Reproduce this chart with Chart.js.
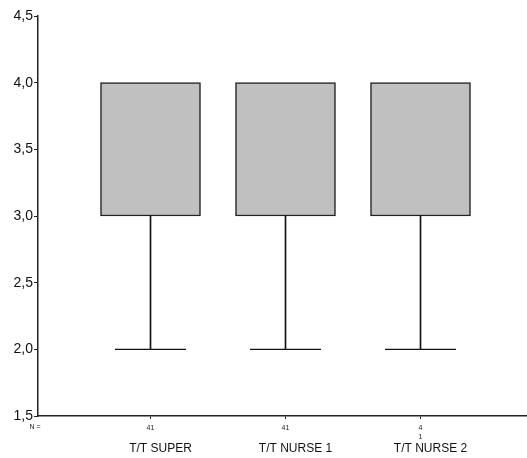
<!DOCTYPE html>
<html>
<head>
<meta charset="utf-8">
<script src="https://cdn.jsdelivr.net/npm/chart.js@4"></script>
<style>
  body { margin: 0; background: #fff; }
</style>
</head>
<body>
<canvas id="myChart" width="527" height="458"></canvas>
<script>
// box plot values, one entry per group (upper whisker = Q3, so none drawn)
const categories = ['T/T SUPER', 'T/T NURSE 1', 'T/T NURSE 2'];
const nLabels = ['41', '41', ['4', '1']];
const minVals = [2, 2, 2];
const q1Vals = [3, 3, 3];
const q3Vals = [4, 4, 4];
const yTicks = [1.5, 2.0, 2.5, 3.0, 3.5, 4.0, 4.5];

const positions = categories.map((c, i) => i + 1);
const FONT = '"Liberation Sans", Arial, sans-serif';

//writes "N =" in front of the counts row
const nPlugin = {
  id: 'nLabel',
  afterDraw(chart) {
    const x = chart.scales.x;
    const ctx = chart.ctx;
    ctx.save();
    ctx.font = '7px ' + FONT;
    ctx.fillStyle = '#222';
    ctx.textAlign = 'center';
    ctx.textBaseline = 'middle';
    ctx.fillText('N =', x.left - 3, x.top + 11);
    ctx.restore();
  }
};

function fixTicks(scale) {
  scale.ticks = positions.map(v => ({ value: v }));
}

// x range picked so groups sit 135px apart, first one 112px from the y axis
const xMin = 0.1667, xMax = 3.7889;
// the group names in the picture sit a bit right of the tick marks
const labelShift = 10 / 135;

new Chart(document.getElementById('myChart'), {
  type: 'bar',
  data: {
    datasets: [
      {
        label: 'whisker',
        data: positions.map((p, i) => ({ x: p, y: [minVals[i], q1Vals[i]] })),
        backgroundColor: '#111',
        borderWidth: 0,
        barThickness: 1,
        grouped: false
      },
      {
        label: 'box',
        data: positions.map((p, i) => ({ x: p, y: [q1Vals[i], q3Vals[i]] })),
        backgroundColor: '#c0c0c0',
        borderColor: '#222',
        borderWidth: 1.5,
        borderSkipped: false,
        barThickness: 100,
        grouped: false
      },
      {
        type: 'line',
        label: 'caps',
        data: positions.map((p, i) => ({ x: p, y: minVals[i] })),
        showLine: false,
        pointStyle: 'line',
        pointRadius: 35.5,
        pointHoverRadius: 35.5,
        borderColor: '#111',
        borderWidth: 1.3
      }
    ]
  },
  options: {
    responsive: false,
    animation: false,
    layout: { autoPadding: false, padding: { top: 16, right: 0, left: 0, bottom: 0 } },
    plugins: { legend: { display: false }, tooltip: { enabled: false } },
    scales: {
      x: {
        type: 'linear',
        position: 'bottom',
        offset: false,
        min: xMin,
        max: xMax,
        afterBuildTicks: fixTicks,
        afterFit: s => { s.height = 25; },
        border: { display: true, color: '#222', width: 1.5 },
        grid: { offset: false, drawOnChartArea: false, drawTicks: true, tickLength: 3, color: '#222' },
        ticks: {
          font: { family: FONT, size: 7 },
          color: '#222',
          padding: 5,
          maxRotation: 0,
          autoSkip: false,
          callback: (v, i) => nLabels[i]
        }
      },
      x2: {
        type: 'linear',
        display: true,
        position: 'bottom',
        offset: false,
        min: xMin - labelShift,
        max: xMax - labelShift,
        afterBuildTicks: fixTicks,
        afterFit: s => { s.height = 17; },
        border: { display: false },
        grid: { display: false, drawTicks: false, tickLength: 0, offset: false },
        ticks: {
          font: { family: FONT, size: 12 },
          color: '#111',
          padding: 0,
          maxRotation: 0,
          autoSkip: false,
          callback: (v, i) => categories[i]
        }
      },
      y: {
        min: 1.5,
        max: 4.5,
        afterBuildTicks: s => { s.ticks = yTicks.map(v => ({ value: v })); },
        afterFit: s => { s.width = 38; },
        border: { display: true, color: '#222', width: 1.5 },
        grid: { drawOnChartArea: false, tickLength: 4, color: '#222' },
        ticks: {
          font: { family: FONT, size: 14 },
          color: '#111',
          padding: 1,
          callback: v => v.toFixed(1).replace('.', ',')
        }
      }
    }
  },
  plugins: [nPlugin]
});
</script>
</body>
</html>
